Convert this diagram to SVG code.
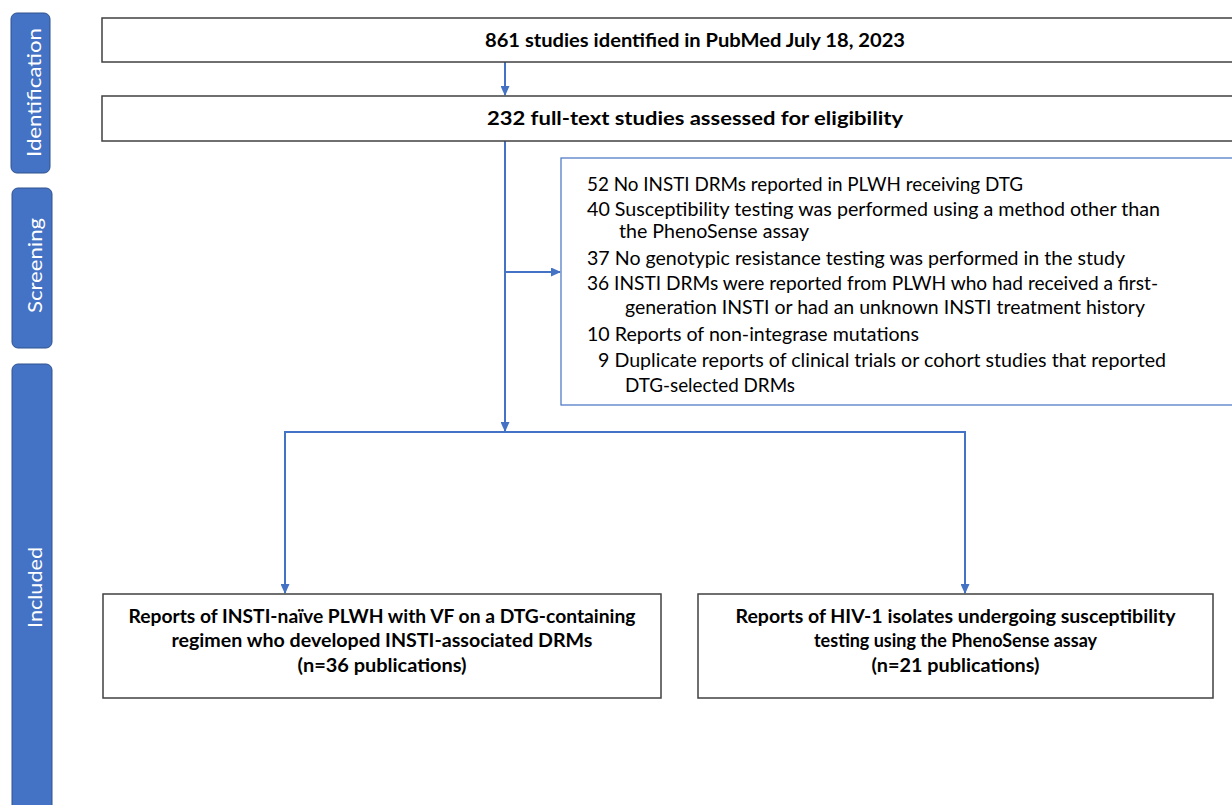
<svg xmlns="http://www.w3.org/2000/svg" width="1232" height="805" viewBox="0 0 1232 805">
<style>
.bar{fill:#4472C4;stroke:#2F528F;stroke-width:1}
.bl{font-family:Lato,"Open Sans",sans-serif;font-size:20px;fill:#ffffff;text-anchor:middle}
.box{fill:#ffffff;stroke:#404040;stroke-width:1.5}
.xbox{fill:#ffffff;stroke:#4472C4;stroke-width:1.2}
.bt{font-family:Lato,"Open Sans",sans-serif;font-size:18.5px;font-weight:bold;fill:#000000;text-anchor:middle}
.t{font-family:Lato,"Open Sans",sans-serif;font-size:19.5px;fill:#000000}
.c{fill:none;stroke:#4472C4;stroke-width:2}
</style>
<defs>
<marker id="ah" markerUnits="userSpaceOnUse" markerWidth="10" markerHeight="9" refX="9" refY="4.5" orient="auto">
<path d="M0,0 L10,4.5 L0,9 z" fill="#4472C4"/>
</marker>
</defs>
<rect width="1232" height="805" fill="#ffffff"/>
<g id="stage-identification">
<rect class="bar" x="11" y="13" width="39" height="160" rx="6"/>
<text class="bl" transform="translate(41,92.5) rotate(-90)" textLength="129" lengthAdjust="spacingAndGlyphs">Identification</text>
</g>
<g id="stage-screening">
<rect class="bar" x="12" y="188" width="40" height="160" rx="6"/>
<text class="bl" transform="translate(42,265.5) rotate(-90)" textLength="95" lengthAdjust="spacingAndGlyphs">Screening</text>
</g>
<g id="stage-included">
<rect class="bar" x="12" y="364" width="40" height="460" rx="6"/>
<text class="bl" transform="translate(42,587.5) rotate(-90)" textLength="81" lengthAdjust="spacingAndGlyphs">Included</text>
</g>
<g id="connectors">
<line class="c" x1="505" y1="62" x2="505" y2="95" marker-end="url(#ah)"/>
<line class="c" x1="505" y1="141" x2="505" y2="431" marker-end="url(#ah)"/>
<line class="c" x1="505" y1="272" x2="560" y2="272" marker-end="url(#ah)"/>
<line class="c" x1="284" y1="432" x2="966" y2="432"/>
<line class="c" x1="285" y1="432" x2="285" y2="593" marker-end="url(#ah)"/>
<line class="c" x1="965" y1="432" x2="965" y2="593" marker-end="url(#ah)"/>
</g>
<g id="node-identified">
<rect class="box" x="102" y="18" width="1140" height="44"/>
<text class="bt" x="695" y="47" textLength="420" lengthAdjust="spacingAndGlyphs">861 studies identified in PubMed July 18, 2023</text>
</g>
<g id="node-assessed">
<rect class="box" x="102" y="96" width="1140" height="45"/>
<text class="bt" x="695" y="125" textLength="416" lengthAdjust="spacingAndGlyphs">232 full-text studies assessed for eligibility</text>
</g>
<g id="node-excluded">
<rect class="xbox" x="561" y="158" width="690" height="247"/>
<text class="t" x="587" y="191" textLength="436" lengthAdjust="spacingAndGlyphs">52 No INSTI DRMs reported in PLWH receiving DTG</text>
<text class="t" x="587" y="216" textLength="573" lengthAdjust="spacingAndGlyphs">40 Susceptibility testing was performed using a method other than</text>
<text class="t" x="619" y="238" textLength="190" lengthAdjust="spacingAndGlyphs">the PhenoSense assay</text>
<text class="t" x="587" y="265" textLength="538" lengthAdjust="spacingAndGlyphs">37 No genotypic resistance testing was performed in the study</text>
<text class="t" x="587" y="290" textLength="571" lengthAdjust="spacingAndGlyphs">36 INSTI DRMs were reported from PLWH who had received a first-</text>
<text class="t" x="625" y="314" textLength="520" lengthAdjust="spacingAndGlyphs">generation INSTI or had an unknown INSTI treatment history</text>
<text class="t" x="587" y="341" textLength="332" lengthAdjust="spacingAndGlyphs">10 Reports of non-integrase mutations</text>
<text class="t" x="598" y="367" textLength="568" lengthAdjust="spacingAndGlyphs">9 Duplicate reports of clinical trials or cohort studies that reported</text>
<text class="t" x="625" y="392" textLength="170" lengthAdjust="spacingAndGlyphs">DTG-selected DRMs</text>
</g>
<g id="node-drms">
<rect class="box" x="103" y="594" width="558" height="104"/>
<text class="bt" x="382" y="623" textLength="507" lengthAdjust="spacingAndGlyphs">Reports of INSTI-naïve PLWH with VF on a DTG-containing</text>
<text class="bt" x="382" y="647" textLength="421" lengthAdjust="spacingAndGlyphs">regimen who developed INSTI-associated DRMs</text>
<text class="bt" x="382" y="672" textLength="169" lengthAdjust="spacingAndGlyphs">(n=36 publications)</text>
</g>
<g id="node-phenosense">
<rect class="box" x="698" y="594" width="515" height="104"/>
<text class="bt" x="955.5" y="623" textLength="440" lengthAdjust="spacingAndGlyphs">Reports of HIV-1 isolates undergoing susceptibility</text>
<text class="bt" x="955.5" y="647" textLength="283" lengthAdjust="spacingAndGlyphs">testing using the PhenoSense assay</text>
<text class="bt" x="955.5" y="672" textLength="168" lengthAdjust="spacingAndGlyphs">(n=21 publications)</text>
</g>
</svg>
